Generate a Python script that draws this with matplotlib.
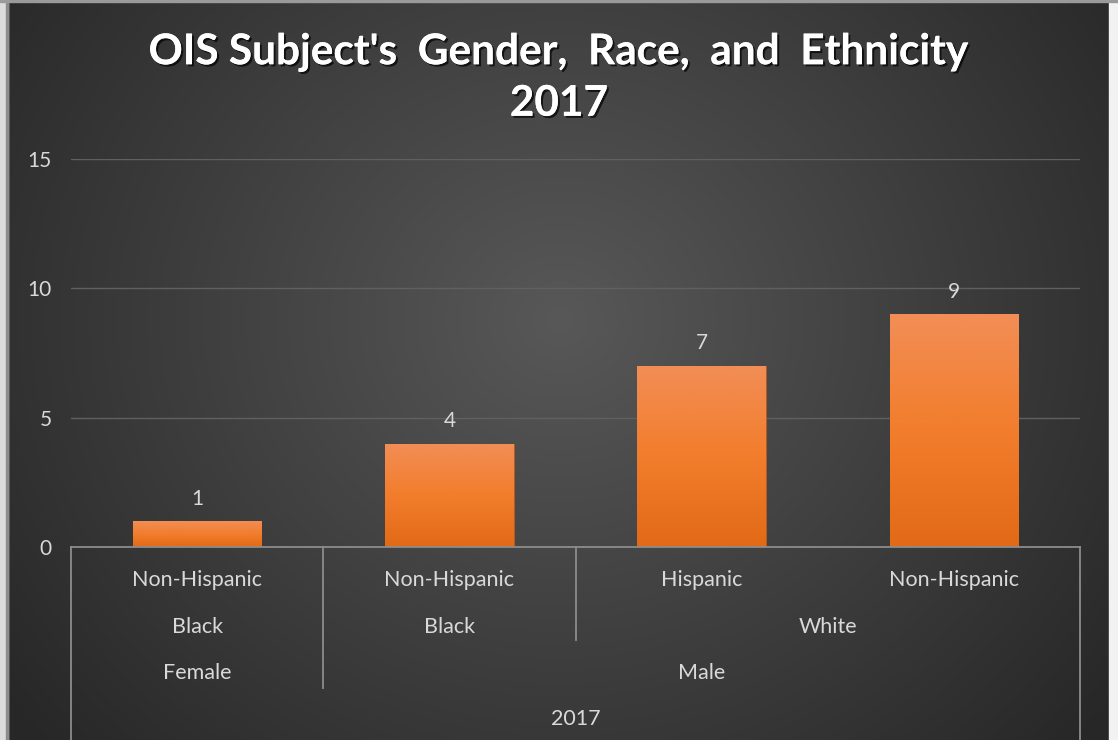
import numpy as np
import matplotlib.pyplot as plt
import matplotlib.patheffects as pe
from matplotlib.colors import LinearSegmentedColormap
from matplotlib.patches import Rectangle

plt.rcParams['font.family'] = ['Lato', 'DejaVu Sans']

# --- data
ethnicity = ['Non-Hispanic', 'Non-Hispanic', 'Hispanic', 'Non-Hispanic']
race_groups = [('Black', 0, 0), ('Black', 1, 1), ('White', 2, 3)]
gender_groups = [('Female', 0, 0), ('Male', 1, 3)]
year_groups = [('2017', 0, 3)]
counts = [1, 4, 7, 9]
yticks = [0, 5, 10, 15]
title = "OIS Subject's  Gender,  Race,  and  Ethnicity\n2017"

W, H = 1118, 740
fig = plt.figure(figsize=(W / 100, H / 100), dpi=100)

# dark radial background like the Excel style
bg = fig.add_axes([0, 0, 1, 1])
bg.set_axis_off()
yy, xx = np.mgrid[0:H, 0:W]
t = np.clip(np.hypot(xx - 560, (yy - 320) * 1.1) / 700, 0, 1)
inner = np.array([0x58, 0x58, 0x58]) / 255
outer = np.array([0x27, 0x27, 0x27]) / 255
img = inner + (outer - inner) * t[..., None]
bg.imshow(img, extent=(0, W, H, 0), aspect='auto')
bg.add_patch(Rectangle((0, 0), 8, H, color='#dcdcdc'))
bg.add_patch(Rectangle((6, 0), 2, H, color='#8c8c8c'))
bg.add_patch(Rectangle((1109, 0), 9, H, color='#f2f2f2'))
bg.add_patch(Rectangle((0, 0), W, 2, color='#9a9a9a'))
bg.set_xlim(0, W)
bg.set_ylim(H, 0)

# plot area in pixels
x0, x1, ytop, ybot = 71, 1080, 159, 547
ax = fig.add_axes([x0 / W, (H - ybot) / H, (x1 - x0) / W, (ybot - ytop) / H])
ax.set_facecolor('none')

xs = np.arange(len(counts))
bars = ax.bar(xs, counts, width=0.51, color='#EE7B30', edgecolor='#b85a1c',
              linewidth=0.6, zorder=3)

cmap = LinearSegmentedColormap.from_list('orng', ['#F28E56', '#F27D2C', '#E26A17'])
grad = np.linspace(0, 1, 256).reshape(-1, 1)
for b in bars:
    im = ax.imshow(grad, extent=[b.get_x(), b.get_x() + b.get_width(), 0, b.get_height()],
                   origin='upper', aspect='auto', cmap=cmap, zorder=3.5)
    im.set_clip_path(b)

ax.bar_label(bars, padding=9, color='#d9d9d9', fontsize=15)

ax.set_xlim(-0.5, len(counts) - 0.5)
ax.set_ylim(0, 15)
ax.set_yticks(yticks)
ax.set_xticks([])
ax.tick_params(axis='y', length=0, pad=14, labelcolor='#d9d9d9', labelsize=15)
ax.yaxis.grid(True, color='#606060', linewidth=1)
ax.set_axisbelow(True)
for s in ['top', 'right', 'left']:
    ax.spines[s].set_visible(False)
ax.spines['bottom'].set_color('#8c8c8c')
ax.spines['bottom'].set_linewidth(1.3)
ax.spines['bottom'].set_zorder(5)

# multi-level category axis
ppu = ybot - ytop
def frac(ypix):
    return (ybot - ypix) / ppu

trans = ax.get_xaxis_transform()
lab = dict(transform=trans, ha='center', va='center', color='#d9d9d9', fontsize=15.5)
for i, name in enumerate(ethnicity):
    ax.text(i, frac(580), name, **lab)
for name, a, b in race_groups:
    ax.text((a + b) / 2, frac(627), name, **lab)
for name, a, b in gender_groups:
    ax.text((a + b) / 2, frac(673), name, **lab)
for name, a, b in year_groups:
    ax.text((a + b) / 2, frac(719), name, **lab)

line = dict(transform=trans, clip_on=False, color='#8c8c8c', linewidth=1.3)
ax.plot([-0.5, -0.5], [0, frac(740)], **line)
ax.plot([len(counts) - 0.5] * 2, [0, frac(740)], **line)
for name, a, b in gender_groups[:-1]:
    ax.plot([b + 0.5] * 2, [0, frac(688)], **line)
for name, a, b in race_groups[:-1]:
    if b + 0.5 not in [g[2] + 0.5 for g in gender_groups]:
        ax.plot([b + 0.5] * 2, [0, frac(640)], **line)

fig.text(0.5, (H - 78) / H, title, ha='center', va='center', color='white',
         fontsize=30.5, fontweight='bold', linespacing=1.42,
         path_effects=[pe.withSimplePatchShadow(offset=(1.5, -1.5), shadow_rgbFace='black', alpha=0.7),
                       pe.Normal()])

fig.savefig('out.png', dpi=100)
